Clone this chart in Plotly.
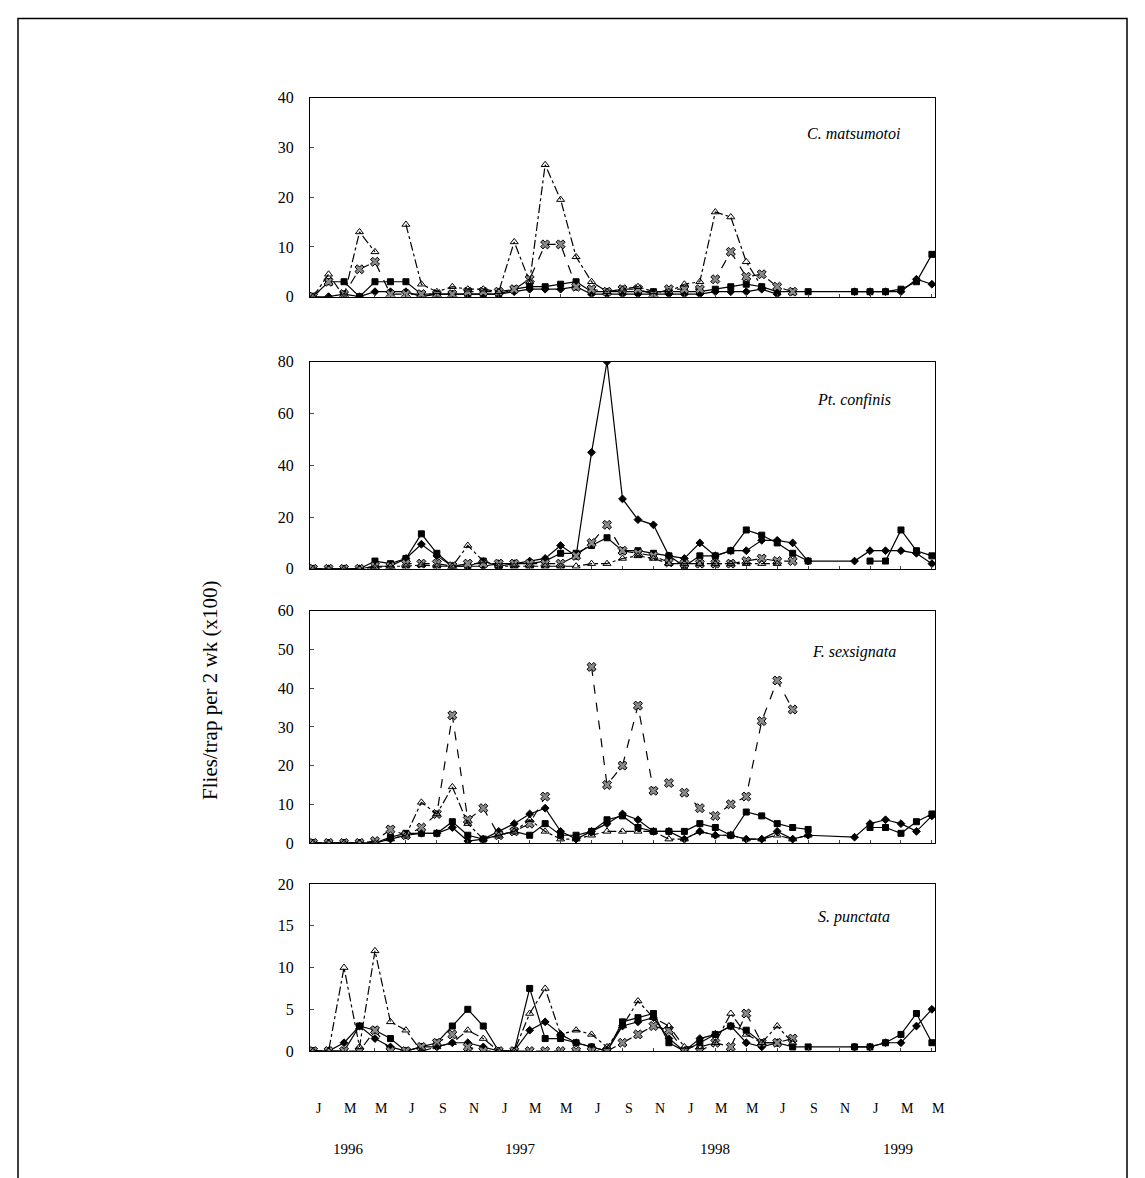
import plotly.graph_objects as go

N = None
# sample month index, 0 = Jan 1996
months = list(range(0, 33)) + [35, 36, 37, 38, 39, 40]

def pad(vals):
    # pad values for months 0..32 with gaps to match 1999 slots
    return vals + [N] * (len(months) - len(vals))

# ---------- C. matsumotoi ----------
cm_diamond = [0, 0, 0.5, 0, 1, 1, 1, 0, 0.5, 0.5, 0.5, 0.5, 0.5, 1, 1.5, 1.5, 1.5, 2, 0.5, 0.5, 0.5, 0.5, 0.5,
              0.5, 0.5, 0.5, 1, 1, 1, 1.5, 0.5, N, N, 1, 1, 1, 1, 3.5, 2.5]
cm_square = [0, 3, 3, 0, 3, 3, 3, 0.5, 0.5, 0.5, 0.5, 0.5, 0.5, 1.5, 2, 2, 2.5, 3, 1, 1, 1, 1, 1,
             1, 1, 1, 1.5, 2, 2.5, 2, 1, 1, 1, 1, 1, 1, 1.5, 3, 8.5]
cm_star = pad([0, 3, 0.5, 5.5, 7, 0.5, 0.5, 0.5, 0.5, 0.5, 1, 1, 1, 1.5, 3.5, 10.5, 10.5, 2, 1.5, 1, 1.5, 1.5, 0.5,
               1.5, 1.5, 1.5, 3.5, 9, 4, 4.5, 2, 1])
cm_tri = pad([0, 4.5, 0, 13, 9, N, 14.5, 2.5, 1, 2, 1.5, 1.5, 1, 11, 3, 26.5, 19.5, 8, 3, 1, 1.5, 2, 1,
              1, 2.5, 3, 17, 16, 7, 2])

# ---------- Pt. confinis ----------
pc_diamond = [0, 0, 0, 0, 1, 1, 4, 9.5, 5, 1, 1, 1, 2, 2, 3, 4, 9, 5, 45, 80, 27, 19, 17, 5,
              4, 10, 5, 7, 7, 11, 11, 10, 3, 3, 7, 7, 7, 6, 2]
pc_square = [0, 0, 0, 0, 3, 2, 4, 13.5, 6, 1, 1, 3, 1, 2, 2, 3, 6, 6, 9, 12, 7, 7, 6, 5,
             1, 5, 5, 7, 15, 13, 10, 6, 3, N, 3, 3, 15, 7, 5]
pc_star = pad([0, 0, 0, 0, 1, 1, 2, 2, 2, 1, 2, 2, 2, 2, 2, 2, 2, 5, 10, 17, 7, 6, 5, 2.5,
               2, 2, 2, 2, 3, 4, 3, 3])
pc_tri = pad([0, 0, 0, 0, 0.5, 1, 1, 1.5, 1, 1, 9, 3, 1, 1, 1, 1, 1, 1, 2, 2, 4, 5, 4, 2,
              2, 2, 2, 2, 2, 2, 2])

# ---------- F. sexsignata ----------
fs_diamond = [0, 0, 0, 0, 0, 1, 2, 2.5, 2.5, 4, 0.5, 1, 3, 5, 7.5, 9, 3, 1, 3, 5, 7.5, 6, 3, 3,
              1, 3, 2, 2, 1, 1, 3, 1, 2, 1.5, 5, 6, 5, 3, 7]
fs_square = [0, 0, 0, 0, 0, 1.5, 2.5, 2.5, 2.5, 5.5, 2, 1, 2, 3, 2, 5, 2, 2, 3, 6, 7, 4, 3, 3,
             3, 5, 4, 2, 8, 7, 5, 4, 3.5, N, 4, 4, 2.5, 5.5, 7.5]
fs_star = pad([0, 0, 0, 0, 0.5, 3.5, 2, 4, 7.5, 33, 6, 9, 2, 3, 5, 12, N, N, 45.5, 15, 20, 35.5, 13.5, 15.5,
               13, 9, 7, 10, 12, 31.5, 42, 34.5])
fs_tri = pad([0, 0, 0, 0, 0, 1, 2, 10.5, 7.5, 14.5, 5, 1, 2, 3, 6, 3, 1, 1, 2, 3, 3, 3, 3, 1,
              1, 3, 2, 2, 1, 1, 2, 1, 2])

# ---------- S. punctata ----------
sp_diamond = [0, 0, 1, 3, 1.5, 0.5, 0, 0.5, 0.5, 1, 1, 0.5, 0, 0, 2.5, 3.5, 2, 1, 0.5, 0, 3, 3.5, 4, 1.5,
              0, 1.5, 2, 3, 1, 0.5, 1, N, N, 0.5, 0.5, 1, 1, 3, 5]
sp_square = [0, 0, 0, 3, 2.5, 1.5, 0, 0.5, 1, 3, 5, 3, 0, 0, 7.5, 1.5, 1.5, 1, 0.5, 0, 3.5, 4, 4.5, 1,
             0, 1, 2, 3, 2.5, 1, 1, 0.5, 0.5, 0.5, 0.5, 1, 2, 4.5, 1]
sp_star = pad([0, 0, 0, 0, 2.5, 0, 0, 0.5, 1, 2, 0.5, 0, 0, 0, 0, 0, 0, 0, 0, 0, 1, 2, 3, 2.5,
               0, 0, 1, 0.5, 4.5, 1, 1, 1.5])
sp_tri = pad([0, 0, 10, 0.5, 12, 3.5, 2.5, 0, 0.5, 1, 2.5, 1.5, 0, 0, 4.5, 7.5, 2, 2.5, 2, 0.5, 3, 6, 4, 3,
              0.5, 0.5, 1, 4.5, 2, 1, 3, 1])

species = ["C. matsumotoi", "Pt. confinis", "F. sexsignata", "S. punctata"]
y_max = [40, 80, 60, 20]
y_dtick = [10, 20, 10, 5]
panels = [
    (cm_diamond, cm_square, cm_star, cm_tri),
    (pc_diamond, pc_square, pc_star, pc_tri),
    (fs_diamond, fs_square, fs_star, fs_tri),
    (sp_diamond, sp_square, sp_star, sp_tri),
]
month_labels = ["J", "M", "M", "J", "S", "N"] * 3 + ["J", "M", "M"]
years = ["1996", "1997", "1998", "1999"]
year_pos = [2.3, 13.4, 26, 37.8]

W, H = 1145, 1178
domains = [(97, 296), (361, 568), (610, 842), (883, 1050)]
x0px, x1px = 310, 935
xr = [-0.2, 40.2]
serif = "Liberation Serif, Times New Roman, serif"

def xpaper(m):
    return (x0px + (m - xr[0]) / (xr[1] - xr[0]) * (x1px - x0px)) / W

def ypaper(py):
    # page is photographed with a small vertical offset/scale
    return 1 - ((py - 7.5) / 0.985) / H

fig = go.Figure()
styles = [
    dict(symbol="diamond", color="black", size=6, dash="solid"),
    dict(symbol="square", color="black", size=6, dash="solid"),
    dict(symbol="x", color="#8a8a8a", size=8, dash="dash"),
    dict(symbol="triangle-up-open", color="black", size=7, dash="dashdot"),
]

for i, series in enumerate(panels):
    ax = "" if i == 0 else str(i + 1)
    for vals, st in zip(series, styles):
        fig.add_trace(go.Scatter(
            x=months, y=vals, mode="lines+markers", xaxis="x" + ax, yaxis="y" + ax,
            line=dict(color="black", width=1.2, dash=st["dash"]),
            marker=dict(symbol=st["symbol"], size=st["size"], color=st["color"],
                        line=dict(color="black", width=1)),
            showlegend=False))
    top, bot = domains[i]
    fig.layout["yaxis" + ax] = dict(
        domain=[ypaper(bot), ypaper(top)], range=[0, y_max[i]], dtick=y_dtick[i],
        showline=True, mirror=True, linecolor="black", linewidth=1, ticks="inside", ticklen=4,
        showgrid=False, zeroline=False, anchor="x" + ax, ticklabelstandoff=12,
        tickfont=dict(family=serif, size=16, color="black"))
    fig.layout["xaxis" + ax] = dict(
        domain=[x0px / W, x1px / W], range=xr, showline=True, mirror=True,
        linecolor="black", linewidth=1, ticks="inside", ticklen=3, tickvals=list(range(0, 41, 2)),
        showticklabels=False, showgrid=False, zeroline=False, anchor="y" + ax)
    fig.add_annotation(text="<i>" + species[i] + "</i>", xref="x" + ax + " domain", yref="y" + ax + " domain",
                       x=0.87, y=0.87, showarrow=False, xanchor="center",
                       font=dict(family=serif, size=16, color="black"))

for k, lab in enumerate(month_labels):
    fig.add_annotation(text=lab, x=xpaper(2 * k + 0.4), xref="paper", y=ypaper(1107), yref="paper",
                       xanchor="center", yanchor="middle", showarrow=False,
                       font=dict(family=serif, size=14, color="black"))
for yr, pos in zip(years, year_pos):
    fig.add_annotation(text=yr, x=xpaper(pos), xref="paper", y=ypaper(1148), yref="paper",
                       xanchor="center", yanchor="middle", showarrow=False,
                       font=dict(family=serif, size=15, color="black"))
fig.add_annotation(text="Flies/trap per 2 wk (x100)", x=210 / W, y=ypaper(690), xref="paper", yref="paper",
                   xanchor="center", yanchor="middle", textangle=-90, showarrow=False,
                   font=dict(family=serif, size=21, color="black"))
fig.add_shape(type="rect", xref="paper", yref="paper", x0=18 / W, x1=1127 / W, y0=-0.02, y1=ypaper(18),
              line=dict(color="black", width=1.5))

fig.update_layout(width=W, height=H, margin=dict(l=0, r=0, t=0, b=0),
                  paper_bgcolor="white", plot_bgcolor="white")
fig.write_html("out.html", config={"displayModeBar": False},
               post_script="document.body.style.margin='0';document.body.style.overflow='hidden';")
